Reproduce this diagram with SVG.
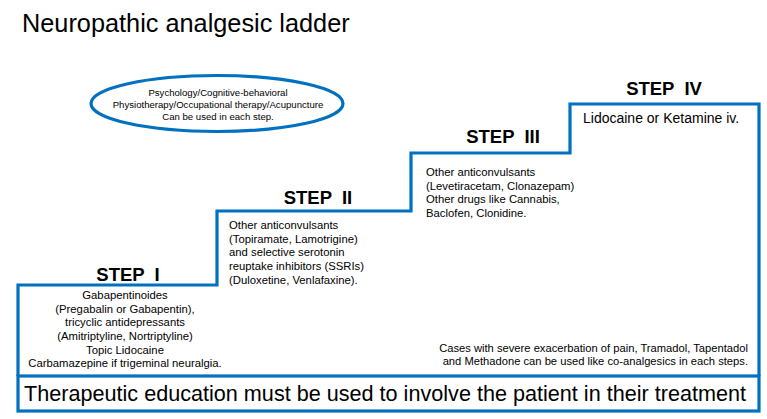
<svg xmlns="http://www.w3.org/2000/svg" width="767" height="419" viewBox="0 0 767 419">
<style>
.ln{fill:none;stroke:#0070C0;stroke-width:3.2;stroke-linejoin:miter}
.t{font-family:"Liberation Sans",Arial,sans-serif;fill:#000}
.step{font-family:"Liberation Sans",Arial,sans-serif;font-weight:bold;font-size:18.5px;fill:#000;white-space:pre}
.body{font-family:"Liberation Sans",Arial,sans-serif;font-size:11.3px;fill:#000}
</style>
<rect width="767" height="419" fill="#fff"/>
<text class="t" x="22" y="32" font-size="25.3">Neuropathic analgesic ladder</text>
<g id="therapies">
<ellipse class="ln" cx="217" cy="103.5" rx="126" ry="28"/>
<text class="t" font-size="9.6" text-anchor="middle"><tspan x="218" y="96">Psychology/Cognitive-behavioral</tspan><tspan x="218" y="108">Physiotherapy/Occupational therapy/Acupuncture</tspan><tspan x="218" y="120">Can be used in each step.</tspan></text>
</g>
<g id="staircase">
<path class="ln" d="M18,376 L18,285 L217,285 L217,211 L411,211 L411,153 L570,153 L570,104 L759,104 L759,376"/>
</g>
<g id="step1">
<text class="step" x="128" y="281" text-anchor="middle" xml:space="preserve">STEP  I</text>
<text class="body" text-anchor="middle"><tspan x="125" y="299">Gabapentinoides</tspan><tspan x="125" y="313">(Pregabalin or Gabapentin),</tspan><tspan x="125" y="326">tricyclic antidepressants</tspan><tspan x="125" y="340">(Amitriptyline, Nortriptyline)</tspan><tspan x="125" y="354">Topic Lidocaine</tspan><tspan x="125" y="367">Carbamazepine if trigeminal neuralgia.</tspan></text>
</g>
<g id="step2">
<text class="step" x="318" y="204" text-anchor="middle" xml:space="preserve">STEP  II</text>
<text class="body"><tspan x="229" y="229">Other anticonvulsants</tspan><tspan x="229" y="243">(Topiramate, Lamotrigine)</tspan><tspan x="229" y="256">and selective serotonin</tspan><tspan x="229" y="270">reuptake inhibitors (SSRIs)</tspan><tspan x="229" y="284">(Duloxetine, Venlafaxine).</tspan></text>
</g>
<g id="step3">
<text class="step" x="503" y="143" text-anchor="middle" xml:space="preserve">STEP  III</text>
<text class="body"><tspan x="426" y="176">Other anticonvulsants</tspan><tspan x="426" y="190">(Levetiracetam, Clonazepam)</tspan><tspan x="426" y="203">Other drugs like Cannabis,</tspan><tspan x="426" y="217">Baclofen, Clonidine.</tspan></text>
</g>
<g id="step4">
<text class="step" x="664" y="95" text-anchor="middle" xml:space="preserve">STEP  IV</text>
<text class="t" x="583" y="123" font-size="14">Lidocaine or Ketamine iv.</text>
</g>
<g id="note">
<text class="t" font-size="11.2" text-anchor="end"><tspan x="748" y="352">Cases with severe exacerbation of pain, Tramadol, Tapentadol</tspan><tspan x="748" y="365">and Methadone can be used like co-analgesics in each steps.</tspan></text>
</g>
<g id="education">
<rect class="ln" x="18" y="376" width="741" height="35"/>
<text class="t" x="24" y="401" font-size="21.5" textLength="722" lengthAdjust="spacingAndGlyphs">Therapeutic education must be used to involve the patient in their treatment</text>
</g>
</svg>
